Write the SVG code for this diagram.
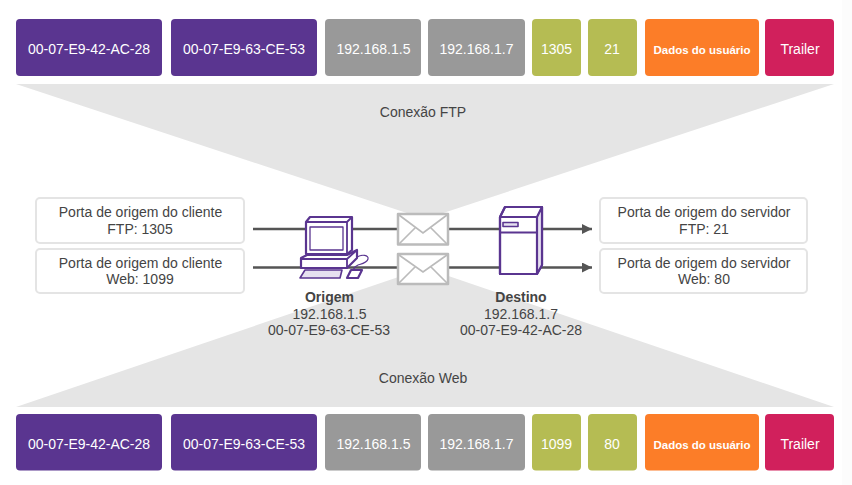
<svg xmlns="http://www.w3.org/2000/svg" width="852" height="485" viewBox="0 0 852 485">
<style>
text{font-family:"Liberation Sans",Arial,sans-serif;font-size:14px;text-anchor:middle}
.w{fill:#fff}
.d{fill:#444}
.b{font-weight:bold}
.s{font-size:11.500px;font-weight:bold}
.mac{fill:#5a3590}.ip{fill:#999}.port{fill:#b5bc53}.data{fill:#fc7d28}.tr{fill:#d1205c}
.lab{fill:#fff;stroke:#e4e4e4;stroke-width:2}
.ln{stroke:#555;stroke-width:2.5;fill:none}
.env{fill:#fff;stroke:#bbb;stroke-width:2.5;stroke-linejoin:round}
.envf{fill:none;stroke:#bbb;stroke-width:1.7}
.p{fill:#fff;stroke:#5a3590;stroke-width:2.2;stroke-linejoin:round}
.q{fill:none;stroke:#5a3590;stroke-width:1.8;stroke-linejoin:round}
.t{fill:#e6e0f0;stroke:#5a3590;stroke-width:1.6;stroke-linejoin:round}
</style>
<defs><marker id="ah" markerUnits="userSpaceOnUse" markerWidth="10" markerHeight="10" refX="10" refY="5" orient="auto"><path d="M0 0L10 5L0 10Z" fill="#555"/></marker></defs>
<rect width="852" height="485" fill="#fff"/>
<rect x="842" width="10" height="485" fill="#fcfcfc"/>
<g id="conexao-ftp"><path d="M16 84H834L425 219Z" fill="#e5e5e5"/><text class="d" x="423" y="117">Conexão FTP</text></g>
<g id="conexao-web"><path d="M16 407H834L425 268Z" fill="#e5e5e5"/><text class="d" x="423" y="383">Conexão Web</text></g>
<g id="quadro-ftp">
<rect class="mac" x="16" y="19" width="146" height="57" rx="4"/><text class="w" x="89" y="54">00-07-E9-42-AC-28</text>
<rect class="mac" x="171" y="19" width="146" height="57" rx="4"/><text class="w" x="244" y="54">00-07-E9-63-CE-53</text>
<rect class="ip" x="325" y="19" width="96" height="57" rx="4"/><text class="w" x="373.500" y="54">192.168.1.5</text>
<rect class="ip" x="428" y="19" width="97" height="57" rx="4"/><text class="w" x="476.500" y="54">192.168.1.7</text>
<rect class="port" x="532" y="19" width="49" height="57" rx="4"/><text class="w" x="556.500" y="54">1305</text>
<rect class="port" x="588" y="19" width="49" height="57" rx="4"/><text class="w" x="612" y="54">21</text>
<rect class="data" x="645" y="19" width="114" height="57" rx="4"/><text class="w s" x="702" y="54">Dados do usuário</text>
<rect class="tr" x="765" y="19" width="69" height="57" rx="4"/><text class="w" x="800" y="54">Trailer</text>
</g>
<g id="quadro-web">
<rect class="mac" x="16" y="414" width="146" height="56.500" rx="4"/><text class="w" x="89" y="449">00-07-E9-42-AC-28</text>
<rect class="mac" x="171" y="414" width="146" height="56.500" rx="4"/><text class="w" x="244" y="449">00-07-E9-63-CE-53</text>
<rect class="ip" x="325" y="414" width="96" height="56.500" rx="4"/><text class="w" x="373.500" y="449">192.168.1.5</text>
<rect class="ip" x="428" y="414" width="97" height="56.500" rx="4"/><text class="w" x="476.500" y="449">192.168.1.7</text>
<rect class="port" x="532" y="414" width="49" height="56.500" rx="4"/><text class="w" x="556.500" y="449">1099</text>
<rect class="port" x="588" y="414" width="49" height="56.500" rx="4"/><text class="w" x="612" y="449">80</text>
<rect class="data" x="645" y="414" width="114" height="56.500" rx="4"/><text class="w s" x="702" y="449">Dados do usuário</text>
<rect class="tr" x="765" y="414" width="69" height="56.500" rx="4"/><text class="w" x="800" y="449">Trailer</text>
</g>
<g id="connectors">
<path class="ln" d="M253 229H592" marker-end="url(#ah)"/>
<path class="ln" d="M253 267.500H592" marker-end="url(#ah)"/>
</g>
<g id="porta-cliente-ftp"><rect class="lab" x="36" y="198" width="208" height="45" rx="4"/><text class="d" x="140.500" y="217">Porta de origem do cliente</text><text class="d" x="140" y="234">FTP: 1305</text></g>
<g id="porta-cliente-web"><rect class="lab" x="36" y="249" width="208" height="44" rx="4"/><text class="d" x="140.500" y="268">Porta de origem do cliente</text><text class="d" x="140" y="284">Web: 1099</text></g>
<g id="porta-servidor-ftp"><rect class="lab" x="600" y="198" width="207" height="45" rx="4"/><text class="d" x="704" y="217">Porta de origem do servidor</text><text class="d" x="704" y="234">FTP: 21</text></g>
<g id="porta-servidor-web"><rect class="lab" x="600" y="249" width="207" height="44" rx="4"/><text class="d" x="704" y="268">Porta de origem do servidor</text><text class="d" x="704" y="284">Web: 80</text></g>
<g id="envelope-1"><rect class="env" x="398" y="214" width="50" height="30.500"/><path class="envf" d="M399 215L423 233L447 215M399 244L415 228M447 244L431 228"/></g>
<g id="envelope-2"><rect class="env" x="398" y="254" width="50" height="30"/><path class="envf" d="M399 255L423 272L447 255M399 283L415 267M447 283L431 267"/></g>
<g id="origem">
<path class="q" style="stroke-width:1.2" d="M357 257C362 254 369 255 368 259C367 263 361 264 358 265C355 266 354 268 353 270"/>
<path class="p" d="M306 222L310 217H352V250L347 254H306Z"/>
<path class="q" d="M306 222H347V254M347 222L352 217"/>
<rect class="q" style="stroke-width:1.3;fill:#fff" x="310" y="227" width="33" height="23"/>
<path class="p" d="M301 258L307 255H347L357 250V258L347 268H301Z"/>
<path class="q" d="M301 259H347V268M347 259L357 250"/>
<path class="t" d="M305 270H342L340 278H300Z"/>
<path class="p" d="M351 270H362L358 278H347Z"/>
<text class="d b" x="329.500" y="302">Origem</text>
<text class="d" x="329.500" y="319">192.168.1.5</text>
<text class="d" x="329" y="335">00-07-E9-63-CE-53</text>
</g>
<g id="destino">
<path class="p" d="M500 217L505 207H542V265L537 274H500Z"/>
<path class="t" style="stroke:none" d="M537 217L542 207V265L537 274Z"/>
<path class="p" style="fill:none" d="M500 217L505 207H542V265L537 274H500ZM500 217H537V274M537 217L542 207M500 232.500H537"/>
<rect class="t" x="503" y="222.500" width="15" height="4"/>
<text class="d b" x="521" y="302">Destino</text>
<text class="d" x="521" y="319">192.168.1.7</text>
<text class="d" x="521" y="335">00-07-E9-42-AC-28</text>
</g>
</svg>
